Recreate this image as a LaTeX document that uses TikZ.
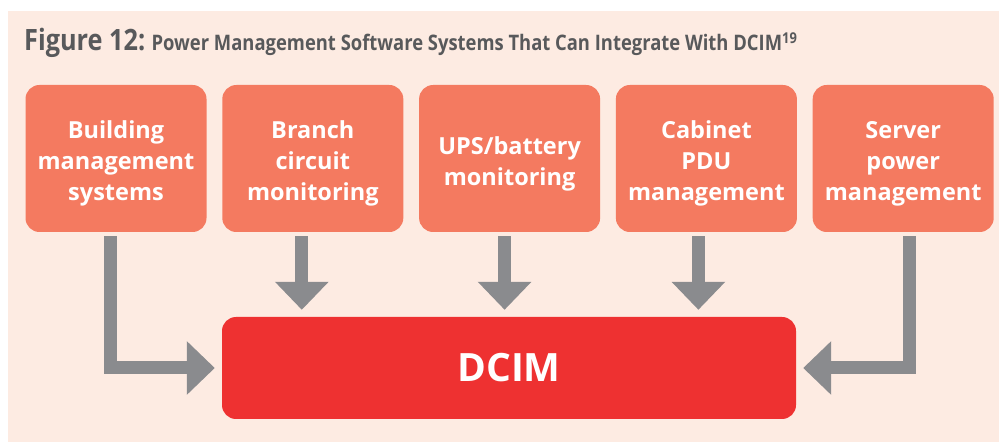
\documentclass[tikz,border=0pt]{standalone}
\usepackage{fontspec}
\setmainfont{Open Sans}
\newfontfamily\titlefont[FakeStretch=0.86]{Open Sans}
\usetikzlibrary{arrows.meta,positioning}

\definecolor{pagebg}{HTML}{FDEBE2}
\definecolor{boxorange}{HTML}{F47A60}
\definecolor{dcimred}{HTML}{EE3131}
\definecolor{arrowgray}{HTML}{8A8B8E}
\definecolor{titlegray}{HTML}{58595B}

\tikzset{
  srcbox/.style={fill=boxorange, rounded corners=14pt, minimum width=181pt, minimum height=147pt, inner sep=0pt},
  srctext/.style={text=white, align=center, inner sep=0pt, font=\fontsize{23.5}{31}\selectfont\bfseries},
  dcimbox/.style={fill=dcimred, rounded corners=14pt, minimum width=574pt, minimum height=102pt,
    text=white, font=\fontsize{39}{45}\selectfont\bfseries},
  blockarrow/.style={draw=arrowgray, line width=13pt, line join=miter,
    -{Triangle[width=52pt,length=28pt]}, shorten <=4pt, shorten >=7pt}
}

\begin{document}
\begin{tikzpicture}[x=1pt,y=-1pt]
\useasboundingbox (0,0) rectangle (999,443);
\fill[pagebg] (8,11) rectangle (999,442);

% title
\node[anchor=base west, inner sep=0pt, text=titlegray, font=\titlefont\fontsize{29.4}{32}\selectfont\bfseries] (title) at (24,50.7) {Figure 12:};
\node[anchor=base west, inner sep=0pt, text=titlegray, font=\titlefont\fontsize{21.4}{24}\selectfont\bfseries] (subtitle) at ([xshift=6pt]title.base east) {Power Management Software Systems That Can Integrate With DCIM\textsuperscript{19}};

% source systems
\foreach \i/\txt in {1/{Building\\management\\systems}, 2/{Branch\\circuit\\monitoring}, 3/{UPS/battery\\monitoring}, 4/{Cabinet\\PDU\\management}, 5/{Server\\power\\management}}{
  \node[srcbox] (b\i) at ({116+196.8*(\i-1)},158.5) {};
  \node[srctext] (t\i) at ([yshift=-5pt]b\i.center) {\txt};
}

\node[dcimbox] (dcim) at (509,368) {DCIM};

% arrows
\foreach \i/\dx in {2/-11,3/-5,4/-8}{
  \coordinate (s\i) at ([xshift=\dx pt]b\i.south);
  \draw[blockarrow] (s\i) -- (s\i |- dcim.north);
}
\coordinate (s1) at ([xshift=-6pt]b1.south);
\draw[blockarrow] (s1) |- (dcim.west);
\coordinate (s5) at ([xshift=6pt]b5.south);
\draw[blockarrow] (s5) |- (dcim.east);
\end{tikzpicture}
\end{document}
